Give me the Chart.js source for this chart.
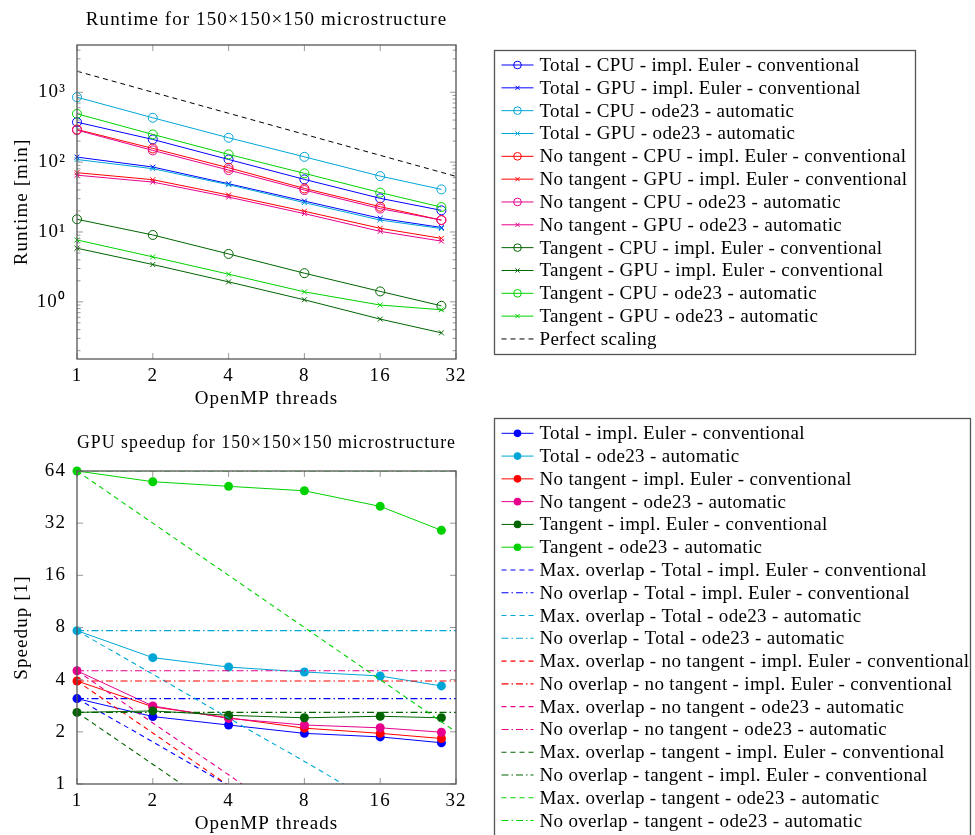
<!DOCTYPE html>
<html>
<head>
<meta charset="utf-8">
<script src="https://cdn.jsdelivr.net/npm/chart.js@4.4.1/dist/chart.umd.min.js"></script>
<style>
  html, body { margin: 0; padding: 0; background: #fff; }
  #wrap { position: relative; width: 975px; height: 835px; overflow: hidden; }
  .box { position: absolute; left: 0; width: 975px; }
  #top { top: 0; height: 410px; }
  #bottom { top: 410px; height: 425px; }
</style>
</head>
<body>
<div id="wrap">
  <div class="box" id="top"><canvas id="runtimeChart" width="975" height="410"></canvas></div>
  <div class="box" id="bottom"><canvas id="speedupChart" width="975" height="425"></canvas></div>
</div>
<script>
// Data
const threads = [1, 2, 4, 8, 16, 28];
const scalingThreads = [1, 2, 4, 8, 16, 32];
const xTicks = [1, 2, 4, 8, 16, 32];
const runtimeTicks = [1, 10, 100, 1000];
const speedupTicks = [1, 2, 4, 8, 16, 32, 64];

// runtime [min]
const totalCpuEuler = [373, 211, 109, 56.6, 30.3, 20.4];
const totalGpuEuler = [118, 85, 49, 27.7, 15.7, 11.6];
const totalCpuOde = [849, 431, 223, 119, 63, 40.7];
const totalGpuOde = [109, 80.5, 47.5, 26.3, 14.8, 11.2];
const noTanCpuEuler = [293, 157, 83, 42, 23, 14.8];
const noTanGpuEuler = [70.6, 56, 33.8, 19.8, 11.3, 8.1];
const noTanCpuOde = [287, 147, 77, 39.8, 21.6, 14.8];
const noTanGpuOde = [65, 51.8, 31.6, 18.3, 10.2, 7.4];
const tanCpuEuler = [15.2, 9.06, 4.85, 2.57, 1.41, 0.877];
const tanGpuEuler = [5.85, 3.42, 1.93, 1.07, 0.566, 0.36];
const tanCpuOde = [491, 249, 129, 69, 36.6, 22.7];
const tanGpuOde = [7.69, 4.4, 2.49, 1.39, 0.9, 0.77];
const perfectScaling = [2000, 1000, 500, 250, 125, 62.5];

// speedup [1]
const spTotalEuler = [3.11, 2.45, 2.19, 1.96, 1.87, 1.73];
const spTotalOde = [7.67, 5.36, 4.73, 4.43, 4.2, 3.68];
const spNoTanEuler = [3.93, 2.79, 2.41, 2.1, 1.96, 1.83];
const spNoTanOde = [4.5, 2.82, 2.39, 2.19, 2.11, 1.99];
const spTanEuler = [2.59, 2.64, 2.49, 2.41, 2.46, 2.41];
const spTanOde = [64, 55.5, 52.2, 49.2, 40, 29.1];

const maxOvTotalEuler = [3.11, 1.75, 0.98, 0.55, 0.31, 0.18];
const noOvTotalEuler = [3.11, 3.11, 3.11, 3.11, 3.11, 3.11];
const maxOvTotalOde = [7.67, 4.3, 2.4, 1.35, 0.75, 0.42];
const noOvTotalOde = [7.67, 7.67, 7.67, 7.67, 7.67, 7.67];
const maxOvNoTanEuler = [3.93, 1.97, 0.98, 0.49, 0.25, 0.12];
const noOvNoTanEuler = [3.93, 3.93, 3.93, 3.93, 3.93, 3.93];
const maxOvNoTanOde = [4.5, 2.25, 1.13, 0.56, 0.28, 0.14];
const noOvNoTanOde = [4.5, 4.5, 4.5, 4.5, 4.5, 4.5];
const maxOvTanEuler = [2.59, 1.3, 0.65, 0.32, 0.16, 0.08];
const noOvTanEuler = [2.59, 2.59, 2.59, 2.59, 2.59, 2.59];
const maxOvTanOde = [64, 32, 16, 8, 4, 2];
const noOvTanOde = [64, 64, 64, 64, 64, 64];

// colours
const BLUE = "rgb(0,0,255)";
const CYAN = "rgb(0,166,214)";
const RED = "rgb(255,0,0)";
const MAGENTA = "rgb(230,0,140)";
const DKGREEN = "rgb(0,100,0)";
const GREEN = "rgb(0,210,0)";

const FONT = "'Liberation Serif', 'Times New Roman', serif";
const FSIZE = 19;
const DASHED = [5, 4];
const DASHDOT = [7, 3, 1.5, 3];

function pts(xs, ys) {
    return ys.map((y, i) => ({ x: xs[i], y: y }));
}

function runtimeSet(label, color, ys, gpu) {
    return {
        label: label,
        data: pts(threads, ys),
        borderColor: color,
        backgroundColor: "transparent",
        pointBackgroundColor: "transparent",
        borderWidth: 1,
        pointStyle: gpu ? "crossRot" : "circle",
        pointRadius: gpu ? 3.5 : 4.5,
        pointBorderWidth: 1,
        tension: 0,
        clip: false,
    };
}

function speedupSet(label, color, ys) {
    return {
        label: label,
        data: pts(threads, ys),
        borderColor: color,
        backgroundColor: color,
        pointBackgroundColor: color,
        borderWidth: 1,
        pointStyle: "circle",
        pointRadius: 4.5,
        pointBorderWidth: 0,
        tension: 0,
        clip: false,
    };
}

function overlapSet(label, color, ys, dash) {
    return {
        label: label,
        data: pts(scalingThreads, ys),
        borderColor: color,
        backgroundColor: color,
        borderWidth: 1.1,
        borderDash: dash,
        pointRadius: 0,
        tension: 0,
    };
}

// wider letter spacing to get closer to the Computer Modern text widths
const spacingPlugin = {
    id: "spacing",
    beforeDraw(chart) {
        chart.ctx.letterSpacing = "1.1px";
    },
};

// frame with inward ticks (pgfplots style)
const framePlugin = {
    id: "frame",
    afterDatasetsDraw(chart, args, opts) {
        const { ctx, chartArea: a, scales } = chart;
        ctx.save();
        ctx.strokeStyle = "#9a9a9a";
        ctx.lineWidth = 1;
        const seg = (x1, y1, x2, y2) => {
            ctx.beginPath();
            ctx.moveTo(x1, y1);
            ctx.lineTo(x2, y2);
            ctx.stroke();
        };
        scales.x.ticks.forEach((t) => {
            const px = scales.x.getPixelForValue(t.value);
            seg(px, a.bottom, px, a.bottom - 6);
            seg(px, a.top, px, a.top + 6);
        });
        scales.y.ticks.forEach((t) => {
            const py = scales.y.getPixelForValue(t.value);
            seg(a.left, py, a.left + 6, py);
            seg(a.right, py, a.right - 6, py);
        });
        (opts.minorY || []).forEach((v) => {
            const py = scales.y.getPixelForValue(v);
            if (py < a.top || py > a.bottom) return;
            seg(a.left, py, a.left + 3.5, py);
            seg(a.right, py, a.right - 3.5, py);
        });
        ctx.strokeStyle = "#555";
        ctx.lineWidth = 1.3;
        ctx.strokeRect(a.left, a.top, a.right - a.left, a.bottom - a.top);
        ctx.restore();
    },
};

// boxed legend to the right of the axes
const boxLegend = {
    id: "boxLegend",
    afterDraw(chart, args, o) {
        const ctx = chart.ctx;
        ctx.save();
        ctx.strokeStyle = "#555";
        ctx.lineWidth = 1.3;
        ctx.strokeRect(o.left, o.top, o.right - o.left, o.bottom - o.top);
        chart.data.datasets.forEach((ds, i) => {
            const y = o.firstRow + i * o.rowGap;
            ctx.save();
            ctx.strokeStyle = ds.borderColor;
            ctx.lineWidth = ds.borderWidth;
            ctx.setLineDash(ds.borderDash || []);
            ctx.beginPath();
            ctx.moveTo(o.left + 7, y);
            ctx.lineTo(o.left + 39, y);
            ctx.stroke();
            ctx.setLineDash([]);
            if (ds.pointRadius > 0) {
                ctx.fillStyle = ds.pointBackgroundColor;
                ctx.lineWidth = ds.pointBorderWidth || 1;
                Chart.helpers.drawPoint(ctx, {
                    pointStyle: ds.pointStyle,
                    radius: ds.pointRadius * 0.85,
                    borderWidth: ds.pointBorderWidth,
                    rotation: 0,
                }, o.left + 23, y);
            }
            ctx.restore();
            ctx.letterSpacing = "0.33px";
            ctx.font = FSIZE + "px " + FONT;
            ctx.fillStyle = "#000";
            ctx.textBaseline = "middle";
            ctx.fillText(ds.label, o.left + 45, y + 1);
        });
        ctx.restore();
    },
};

const supers = { "-1": "10\u207B\u00B9", "0": "10\u2070", "1": "10\u00B9", "2": "10\u00B2", "3": "10\u00B3" };

const minorRuntime = [];
[0.1, 1, 10, 100, 1000].forEach((d) => {
    for (let k = 2; k <= 9; k++) minorRuntime.push(d * k);
});

function xScale() {
    return {
        type: "logarithmic",
        min: 1,
        max: 32,
        afterBuildTicks: (s) => { s.ticks = xTicks.map((v) => ({ value: v })); },
        afterFit: (s) => { s.height = 51; },
        grid: { display: false, drawTicks: false },
        border: { display: false },
        ticks: {
            autoSkip: false,
            maxRotation: 0,
            padding: 5.6,
            color: "#000",
            font: { family: FONT, size: FSIZE },
            callback: (v) => String(v),
        },
        title: {
            display: true,
            text: "OpenMP threads",
            color: "#000",
            font: { family: FONT, size: FSIZE },
            padding: { top: 0, bottom: 0 },
        },
    };
}

function yScale(min, max, tickVals, label, fmt) {
    return {
        type: "logarithmic",
        min: min,
        max: max,
        afterBuildTicks: (s) => { s.ticks = tickVals.map((v) => ({ value: v })); },
        afterFit: (s) => { s.width = 77; },
        grid: { display: false, drawTicks: false },
        border: { display: false },
        ticks: {
            autoSkip: false,
            padding: 11,
            color: "#000",
            font: { family: FONT, size: FSIZE },
            callback: fmt,
        },
        title: {
            display: true,
            text: label,
            color: "#000",
            font: { family: FONT, size: FSIZE },
            padding: { top: 10.6, bottom: 0 },
        },
    };
}

const runtimeSets = [
    runtimeSet("Total - CPU - impl. Euler - conventional", BLUE, totalCpuEuler, false),
    runtimeSet("Total - GPU - impl. Euler - conventional", BLUE, totalGpuEuler, true),
    runtimeSet("Total - CPU - ode23 - automatic", CYAN, totalCpuOde, false),
    runtimeSet("Total - GPU - ode23 - automatic", CYAN, totalGpuOde, true),
    runtimeSet("No tangent - CPU - impl. Euler - conventional", RED, noTanCpuEuler, false),
    runtimeSet("No tangent - GPU - impl. Euler - conventional", RED, noTanGpuEuler, true),
    runtimeSet("No tangent - CPU - ode23 - automatic", MAGENTA, noTanCpuOde, false),
    runtimeSet("No tangent - GPU - ode23 - automatic", MAGENTA, noTanGpuOde, true),
    runtimeSet("Tangent - CPU - impl. Euler - conventional", DKGREEN, tanCpuEuler, false),
    runtimeSet("Tangent - GPU - impl. Euler - conventional", DKGREEN, tanGpuEuler, true),
    runtimeSet("Tangent - CPU - ode23 - automatic", GREEN, tanCpuOde, false),
    runtimeSet("Tangent - GPU - ode23 - automatic", GREEN, tanGpuOde, true),
    {
        label: "Perfect scaling",
        data: pts(scalingThreads, perfectScaling),
        borderColor: "#000",
        borderWidth: 1,
        borderDash: DASHED,
        pointRadius: 0,
        tension: 0,
    },
];
runtimeSets.forEach((d, i) => { d.order = -i; });

new Chart(document.getElementById("runtimeChart"), {
    type: "line",
    data: { datasets: runtimeSets },
    plugins: [spacingPlugin, framePlugin, boxLegend],
    options: {
        responsive: false,
        animation: false,
        devicePixelRatio: 1,
        layout: { padding: { left: 0, right: 519, top: 0, bottom: 0 } },
        scales: {
            x: xScale(),
            y: yScale(0.152, 4745, runtimeTicks, "Runtime [min]",
                (v) => supers[String(Math.round(Math.log10(v)))]),
        },
        plugins: {
            legend: { display: false },
            tooltip: { enabled: false },
            title: {
                display: true,
                fullSize: false,
                text: "Runtime for 150\u00D7150\u00D7150 microstructure",
                color: "#000",
                font: { family: FONT, size: FSIZE, weight: "normal" },
                padding: { top: 8.6, bottom: 13.6 },
            },
            frame: { minorY: minorRuntime },
            boxLegend: { left: 494.5, top: 50.5, right: 915.5, bottom: 354.5, firstRow: 65, rowGap: 22.83 },
        },
    },
});

const speedupSets = [
    speedupSet("Total - impl. Euler - conventional", BLUE, spTotalEuler),
    speedupSet("Total - ode23 - automatic", CYAN, spTotalOde),
    speedupSet("No tangent - impl. Euler - conventional", RED, spNoTanEuler),
    speedupSet("No tangent - ode23 - automatic", MAGENTA, spNoTanOde),
    speedupSet("Tangent - impl. Euler - conventional", DKGREEN, spTanEuler),
    speedupSet("Tangent - ode23 - automatic", GREEN, spTanOde),
    overlapSet("Max. overlap - Total - impl. Euler - conventional", BLUE, maxOvTotalEuler, DASHED),
    overlapSet("No overlap - Total - impl. Euler - conventional", BLUE, noOvTotalEuler, DASHDOT),
    overlapSet("Max. overlap - Total - ode23 - automatic", CYAN, maxOvTotalOde, DASHED),
    overlapSet("No overlap - Total - ode23 - automatic", CYAN, noOvTotalOde, DASHDOT),
    overlapSet("Max. overlap - no tangent - impl. Euler - conventional", RED, maxOvNoTanEuler, DASHED),
    overlapSet("No overlap - no tangent - impl. Euler - conventional", RED, noOvNoTanEuler, DASHDOT),
    overlapSet("Max. overlap - no tangent - ode23 - automatic", MAGENTA, maxOvNoTanOde, DASHED),
    overlapSet("No overlap - no tangent - ode23 - automatic", MAGENTA, noOvNoTanOde, DASHDOT),
    overlapSet("Max. overlap - tangent - impl. Euler - conventional", DKGREEN, maxOvTanEuler, DASHED),
    overlapSet("No overlap - tangent - impl. Euler - conventional", DKGREEN, noOvTanEuler, DASHDOT),
    overlapSet("Max. overlap - tangent - ode23 - automatic", GREEN, maxOvTanOde, DASHED),
    overlapSet("No overlap - tangent - ode23 - automatic", GREEN, noOvTanOde, DASHDOT),
];
speedupSets.forEach((d, i) => { d.order = -i; });

new Chart(document.getElementById("speedupChart"), {
    type: "line",
    data: { datasets: speedupSets },
    plugins: [spacingPlugin, framePlugin, boxLegend],
    options: {
        responsive: false,
        animation: false,
        devicePixelRatio: 1,
        layout: { padding: { left: 0, right: 519, top: 0, bottom: 0 } },
        scales: {
            x: xScale(),
            y: yScale(1, 64, speedupTicks, "Speedup [1]", (v) => String(v)),
        },
        plugins: {
            legend: { display: false },
            tooltip: { enabled: false },
            title: {
                display: true,
                fullSize: false,
                text: "GPU speedup for 150\u00D7150\u00D7150 microstructure",
                color: "#000",
                font: { family: FONT, size: FSIZE, weight: "normal" },
                padding: { top: 21.3, bottom: 16.9 },
            },
            frame: {},
            boxLegend: { left: 494.5, top: 8.5, right: 970.5, bottom: 440, firstRow: 23.3, rowGap: 22.78 },
        },
    },
});
</script>
</body>
</html>
